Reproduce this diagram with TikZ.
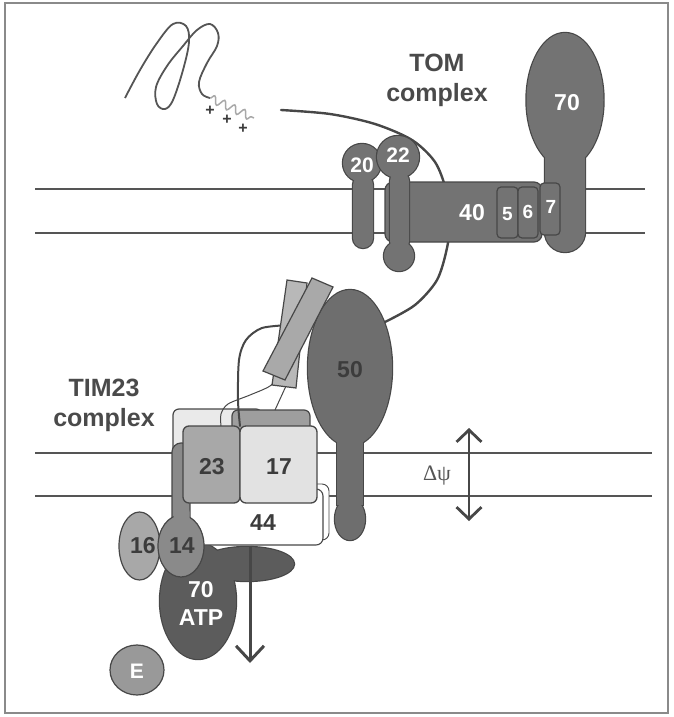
\documentclass[tikz,border=0pt]{standalone}
\usepackage{fontspec}
\setmainfont{Liberation Sans}
\newfontfamily\greekserif{Liberation Serif}
\usetikzlibrary{shapes.geometric,arrows.meta,decorations.pathmorphing}
\definecolor{frameGray}{HTML}{8A8A8A}
\definecolor{lineGray}{HTML}{555555}
\definecolor{edge}{HTML}{474747}
\definecolor{tomFill}{HTML}{737373}
\definecolor{fiftyFill}{HTML}{6E6E6E}
\definecolor{hspFill}{HTML}{5C5C5C}
\definecolor{tomFourteen}{HTML}{8A8A8A}
\definecolor{tomSixteen}{HTML}{A8A8A8}
\definecolor{enzFill}{HTML}{999999}
\definecolor{rodBack}{HTML}{B8B8B8}
\definecolor{rodFront}{HTML}{A9A9A9}
\definecolor{boxDark}{HTML}{A8A8A8}
\definecolor{boxDarkBack}{HTML}{9E9E9E}
\definecolor{boxPale}{HTML}{E2E2E2}
\definecolor{boxPaleBack}{HTML}{EAEAEA}
\definecolor{labelDark}{HTML}{3C3C3C}
\definecolor{titleGray}{HTML}{4A4A4A}
\definecolor{wiggle}{HTML}{A8A8A8}
\begin{document}
\begin{tikzpicture}[x=1pt,y=-1pt,
  membrane/.style={draw=lineGray, line width=1.5pt},
  fineedge/.style={draw=edge, line width=1.2pt},
  boldedge/.style={draw=edge, line width=2.4pt},
  whitenum/.style={text=white, font=\fontsize{23}{23}\selectfont\bfseries, inner sep=0pt},
  darknum/.style={text=labelDark, font=\fontsize{23}{23}\selectfont\bfseries, inner sep=0pt},
  titletext/.style={text=titleGray, font=\fontsize{25}{30}\selectfont\bfseries, align=center, inner sep=0pt},
  plussign/.style={text=labelDark, font=\fontsize{16}{16}\selectfont\bfseries, inner sep=0pt},
  chain/.style={draw=edge, line width=2.4pt, line cap=round},
  thread/.style={draw=edge, line width=1pt},
  barb/.style={draw=edge, line width=3pt},
]
\useasboundingbox (0,0) rectangle (674,717);
% frame
\draw[frameGray, line width=1.5pt] (5,3) rectangle (668,713);

% outer and inner membranes
\draw[membrane] (35,189) -- (645,189);
\draw[membrane] (35,233) -- (645,233);
\draw[membrane] (35,453) -- (652,453);
\draw[membrane] (35,496) -- (652,496);

% unfolded precursor with its presequence
\draw[draw=lineGray, line width=1.8pt] plot[smooth, tension=0.6] coordinates {(125,98) (140,70) (157,43) (173,24) (186,26) (189,42) (183,70) (173,100) (165,109) (157,104) (156,87) (167,66) (183,46) (197,30) (210,24) (218,33) (217,46) (207,63) (199,82) (202,94) (210,98)};
\draw[draw=wiggle, line width=1.5pt, decorate, decoration={snake, segment length=11pt, amplitude=4pt}] (210,98) -- (254,118);
\node[plussign] (plusA) at (210,111) {+};
\node[plussign] (plusB) at (227,120) {+};
\node[plussign] (plusC) at (243,129) {+};

% chain threading through TOM towards TIM23
\draw[chain] plot[smooth] coordinates {(281,110) (330,114) (375,124) (412,140) (435,162) (446,190) (450,220) (447,248) (437,280) (415,305) (385,322)};

% Tom70 (head and anchor merged)
\draw[boldedge, fill=tomFill] (565,100) ellipse [x radius=38.5pt, y radius=67pt];
\draw[boldedge, fill=tomFill, rounded corners=20pt] (545,140) rectangle (585,252);
\fill[tomFill] (565,100) ellipse [x radius=38.5pt, y radius=67pt];
\fill[tomFill, rounded corners=20pt] (545,140) rectangle (585,252);

% Tom40 channel and small Tom proteins
\draw[fineedge, fill=tomFill, rounded corners=8pt] (385,182) rectangle (542,242);
\draw[fineedge, fill=tomFill, rounded corners=4pt] (497,187) rectangle (518,238);
\draw[fineedge, fill=tomFill, rounded corners=4pt] (518,187) rectangle (538,238);
\draw[fineedge, fill=tomFill, rounded corners=4pt] (540,183) rectangle (560,235);

% Tom20
\draw[boldedge, fill=tomFill] (362,163) circle [radius=19pt];
\draw[boldedge, fill=tomFill, rounded corners=10pt] (353,175) rectangle (373,248);
\fill[tomFill] (362,163) circle [radius=19pt];
\fill[tomFill, rounded corners=10pt] (353,175) rectangle (373,248);

% Tom22
\draw[boldedge, fill=tomFill] (398,157) circle [radius=21pt];
\draw[boldedge, fill=tomFill, rounded corners=9pt] (390,172) rectangle (409,250);
\draw[boldedge, fill=tomFill] (399,256) circle [radius=15pt];
\fill[tomFill] (398,157) circle [radius=21pt];
\fill[tomFill, rounded corners=9pt] (390,172) rectangle (409,250);
\fill[tomFill] (399,256) circle [radius=15pt];

\node[whitenum] (lab70) at (567,103) {70};
\node[whitenum] (lab40) at (472,213) {40};
\node[whitenum, font=\fontsize{19}{19}\selectfont\bfseries] (lab5) at (507.5,214) {5};
\node[whitenum, font=\fontsize{19}{19}\selectfont\bfseries] (lab6) at (528,212) {6};
\node[whitenum, font=\fontsize{19}{19}\selectfont\bfseries] (lab7) at (551,207) {7};
\node[whitenum, font=\fontsize{21}{21}\selectfont\bfseries] (lab20) at (362,165) {20};
\node[whitenum, font=\fontsize{21}{21}\selectfont\bfseries] (lab22) at (398,155) {22};
\node[titletext] (tomtitle) at (437,80) {TOM\\complex};

% Tim50 (domain, membrane segment and bulb)
\draw[boldedge, fill=fiftyFill] (350,368) ellipse [x radius=42pt, y radius=78pt];
\draw[boldedge, fill=fiftyFill] (337,430) rectangle (363,505);
\draw[boldedge, fill=fiftyFill] (350,519) ellipse [x radius=15pt, y radius=21pt];
\fill[fiftyFill] (350,368) ellipse [x radius=42pt, y radius=78pt];
\fill[fiftyFill] (337,430) rectangle (363,505);
\fill[fiftyFill] (350,519) ellipse [x radius=15pt, y radius=21pt];
\node[darknum] (lab50) at (350,370) {50};

% rear faces of the Tim23 / Tim17 channel
\draw[fineedge, fill=boxPaleBack, rounded corners=6pt] (173,409) rectangle (262,470);
\draw[fineedge, fill=boxDarkBack, rounded corners=6pt] (232,410) rectangle (310,470);

% fine linkers and the chain entering the channel
\draw[thread] plot[smooth] coordinates {(221,426) (221,414) (228,404) (250,395) (270,386) (281,374)};
\draw[thread] (275,410) -- (286,386);
\draw[chain, line width=2pt] plot[smooth] coordinates {(290,325) (262,328) (246,340) (239,360) (238,400) (240,426)};

% Tim21 rods
\draw[fineedge, fill=rodBack] (287,280) -- (307,283) -- (296,388) -- (272,385) -- cycle;
\draw[fineedge, fill=rodFront] (312,278) -- (333,287) -- (285,380) -- (263,371) -- cycle;

% Tim14 membrane segment
\draw[fineedge, fill=tomFourteen, rounded corners=9pt] (172,443) rectangle (191,530);

% Hsp70 and the Tim44-bound lobe
\draw[boldedge, fill=hspFill] (247,564) ellipse [x radius=47pt, y radius=17pt];
\draw[boldedge, fill=hspFill] (198,601) ellipse [x radius=38pt, y radius=58pt];
\fill[hspFill] (247,564) ellipse [x radius=47pt, y radius=17pt];
\fill[hspFill] (198,601) ellipse [x radius=38pt, y radius=58pt];

% Tim44
\draw[draw=edge, line width=0.9pt, fill=white, rounded corners=7pt] (197,484) rectangle (329,540);
\node[draw=edge, line width=1.1pt, fill=white, rounded corners=7pt, minimum width=133pt, minimum height=56pt, inner sep=0pt] (tim44) at (256.5,517) {};
\node[darknum] (lab44) at (263,523) {44};

% front faces: Tim23 and Tim17
\node[draw=edge, line width=1.3pt, fill=boxDark, rounded corners=6pt, minimum width=57pt, minimum height=77pt, inner sep=0pt] (tim23) at (211.5,464.5) {};
\node[draw=edge, line width=1.3pt, fill=boxPale, rounded corners=6pt, minimum width=77pt, minimum height=77pt, inner sep=0pt] (tim17) at (278.5,464.5) {};
\node[darknum] (lab23) at (212,467) {23};
\node[darknum] (lab17) at (279,467) {17};

% Tim16 and Tim14
\node[ellipse, draw=edge, line width=1.2pt, fill=tomSixteen, minimum width=41pt, minimum height=68pt, inner sep=0pt] (tim16) at (139.5,546) {};
\node[ellipse, draw=edge, line width=1.2pt, fill=tomFourteen, minimum width=46pt, minimum height=62pt, inner sep=0pt] (tim14) at (181,546) {};
\fill[tomFourteen, rounded corners=7pt] (173.5,505) rectangle (189.5,526);
\node[darknum] (lab16) at (143,546) {16};
\node[darknum] (lab14) at (182,546) {14};

% Hsp70 label
\node[whitenum, align=center, font=\fontsize{23}{28}\selectfont\bfseries] (labhsp) at (201,603) {70\\ATP};

% import direction into the matrix
\coordinate (matrixEnd) at (250,663);
\draw[barb, -{Straight Barb[length=15pt, width=28pt, line width=3pt]}] (tim44.south -| matrixEnd) -- (matrixEnd);

% Mge1
\node[ellipse, draw=edge, line width=1.2pt, fill=enzFill, minimum width=54pt, minimum height=50pt, inner sep=0pt] (mge) at (137,670) {};
\node[whitenum, font=\fontsize{21}{21}\selectfont\bfseries] (labE) at (137,671) {E};

\node[titletext] (timtitle) at (104,405) {TIM23\\complex};

% membrane potential
\coordinate (psiTop) at (469,428);
\coordinate (psiBot) at (469,521);
\draw[draw=edge, line width=2.8pt, {Straight Barb[length=12pt, width=25pt, line width=2.8pt]}-{Straight Barb[length=12pt, width=25pt, line width=2.8pt]}] (psiTop) -- (psiBot);
\node[text=lineGray, font=\fontsize{22}{22}\selectfont\greekserif, inner sep=0pt] (dpsi) at (437,476) {Δψ};
\end{tikzpicture}
\end{document}
